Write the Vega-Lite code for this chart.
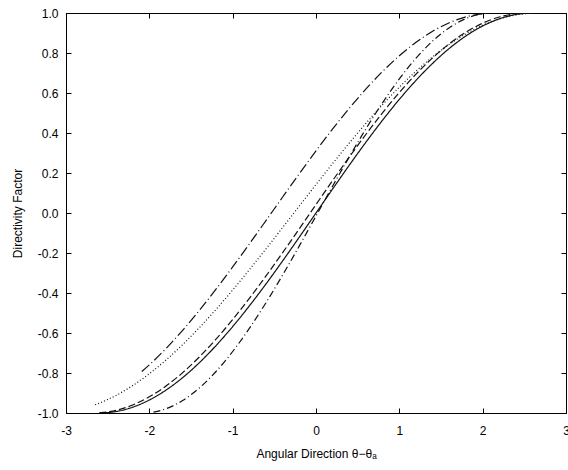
{
  "$schema": "https://vega.github.io/schema/vega-lite/v6.json",
  "width": 500,
  "height": 400,
  "autosize": {"type": "none"},
  "padding": {"left": 66, "top": 13, "right": 2, "bottom": 57},
  "background": "white",
  "config": {
    "font": "Liberation Sans",
    "view": {"stroke": "black", "strokeWidth": 1},
    "axis": {
      "grid": false,
      "domainColor": "black",
      "tickColor": "black",
      "labelColor": "black",
      "titleColor": "black",
      "labelFont": "Liberation Sans",
      "titleFont": "Liberation Sans",
      "labelFontSize": 12,
      "titleFontSize": 12,
      "titleFontWeight": "normal",
      "labelFlush": false,
      "labelOverlap": false
    }
  },
  "datasets": {
    "curves": [
      {"c": "solid", "x": -2.6, "y": -1.0},
      {"c": "solid", "x": -2.4, "y": -0.9927},
      {"c": "solid", "x": -2.2, "y": -0.9709},
      {"c": "solid", "x": -2.0, "y": -0.935},
      {"c": "solid", "x": -1.8, "y": -0.8855},
      {"c": "solid", "x": -1.6, "y": -0.823},
      {"c": "solid", "x": -1.4, "y": -0.7485},
      {"c": "solid", "x": -1.2, "y": -0.6631},
      {"c": "solid", "x": -1.0, "y": -0.5681},
      {"c": "solid", "x": -0.8, "y": -0.4647},
      {"c": "solid", "x": -0.6, "y": -0.3546},
      {"c": "solid", "x": -0.4, "y": -0.2393},
      {"c": "solid", "x": -0.2, "y": -0.1205},
      {"c": "solid", "x": 0.0, "y": 0.0},
      {"c": "solid", "x": 0.2, "y": 0.1205},
      {"c": "solid", "x": 0.4, "y": 0.2393},
      {"c": "solid", "x": 0.6, "y": 0.3546},
      {"c": "solid", "x": 0.8, "y": 0.4647},
      {"c": "solid", "x": 1.0, "y": 0.5681},
      {"c": "solid", "x": 1.2, "y": 0.6631},
      {"c": "solid", "x": 1.4, "y": 0.7485},
      {"c": "solid", "x": 1.6, "y": 0.823},
      {"c": "solid", "x": 1.8, "y": 0.8855},
      {"c": "solid", "x": 2.0, "y": 0.935},
      {"c": "solid", "x": 2.2, "y": 0.9709},
      {"c": "solid", "x": 2.4, "y": 0.9927},
      {"c": "solid", "x": 2.6, "y": 1.0},

      {"c": "dashed", "x": -2.6, "y": -0.9991},
      {"c": "dashed", "x": -2.4, "y": -0.9867},
      {"c": "dashed", "x": -2.2, "y": -0.9599},
      {"c": "dashed", "x": -2.0, "y": -0.9192},
      {"c": "dashed", "x": -1.8, "y": -0.865},
      {"c": "dashed", "x": -1.6, "y": -0.7982},
      {"c": "dashed", "x": -1.4, "y": -0.7198},
      {"c": "dashed", "x": -1.2, "y": -0.6309},
      {"c": "dashed", "x": -1.0, "y": -0.5328},
      {"c": "dashed", "x": -0.8, "y": -0.4269},
      {"c": "dashed", "x": -0.6, "y": -0.3148},
      {"c": "dashed", "x": -0.4, "y": -0.1981},
      {"c": "dashed", "x": -0.2, "y": -0.0784},
      {"c": "dashed", "x": 0.0, "y": 0.0423},
      {"c": "dashed", "x": 0.2, "y": 0.1624},
      {"c": "dashed", "x": 0.4, "y": 0.2802},
      {"c": "dashed", "x": 0.6, "y": 0.3938},
      {"c": "dashed", "x": 0.8, "y": 0.5017},
      {"c": "dashed", "x": 1.0, "y": 0.6023},
      {"c": "dashed", "x": 1.2, "y": 0.6942},
      {"c": "dashed", "x": 1.4, "y": 0.7759},
      {"c": "dashed", "x": 1.6, "y": 0.8462},
      {"c": "dashed", "x": 1.8, "y": 0.9043},
      {"c": "dashed", "x": 2.0, "y": 0.9492},
      {"c": "dashed", "x": 2.2, "y": 0.9802},
      {"c": "dashed", "x": 2.4, "y": 0.9969},
      {"c": "dashed", "x": 2.53, "y": 1.0},

      {"c": "dotted", "x": -2.65, "y": -0.9589},
      {"c": "dotted", "x": -2.4, "y": -0.9122},
      {"c": "dotted", "x": -2.2, "y": -0.8629},
      {"c": "dotted", "x": -2.0, "y": -0.8036},
      {"c": "dotted", "x": -1.8, "y": -0.7351},
      {"c": "dotted", "x": -1.6, "y": -0.658},
      {"c": "dotted", "x": -1.4, "y": -0.5734},
      {"c": "dotted", "x": -1.2, "y": -0.4821},
      {"c": "dotted", "x": -1.0, "y": -0.3852},
      {"c": "dotted", "x": -0.8, "y": -0.2839},
      {"c": "dotted", "x": -0.6, "y": -0.1792},
      {"c": "dotted", "x": -0.4, "y": -0.0725},
      {"c": "dotted", "x": -0.2, "y": 0.035},
      {"c": "dotted", "x": 0.0, "y": 0.1421},
      {"c": "dotted", "x": 0.2, "y": 0.2476},
      {"c": "dotted", "x": 0.4, "y": 0.3502},
      {"c": "dotted", "x": 0.6, "y": 0.4488},
      {"c": "dotted", "x": 0.8, "y": 0.5422},
      {"c": "dotted", "x": 1.0, "y": 0.6293},
      {"c": "dotted", "x": 1.2, "y": 0.7091},
      {"c": "dotted", "x": 1.4, "y": 0.7807},
      {"c": "dotted", "x": 1.6, "y": 0.8433},
      {"c": "dotted", "x": 1.8, "y": 0.8961},
      {"c": "dotted", "x": 2.0, "y": 0.9386},
      {"c": "dotted", "x": 2.2, "y": 0.9702},
      {"c": "dotted", "x": 2.4, "y": 0.9906},
      {"c": "dotted", "x": 2.655, "y": 1.0},

      {"c": "dashdot", "x": -2.09, "y": -0.7927},
      {"c": "dashdot", "x": -2.0, "y": -0.7593},
      {"c": "dashdot", "x": -1.8, "y": -0.6776},
      {"c": "dashdot", "x": -1.6, "y": -0.5865},
      {"c": "dashdot", "x": -1.4, "y": -0.4872},
      {"c": "dashdot", "x": -1.2, "y": -0.3812},
      {"c": "dashdot", "x": -1.0, "y": -0.2699},
      {"c": "dashdot", "x": -0.8, "y": -0.1549},
      {"c": "dashdot", "x": -0.6, "y": -0.0377},
      {"c": "dashdot", "x": -0.4, "y": 0.08},
      {"c": "dashdot", "x": -0.2, "y": 0.1966},
      {"c": "dashdot", "x": 0.0, "y": 0.3105},
      {"c": "dashdot", "x": 0.2, "y": 0.4201},
      {"c": "dashdot", "x": 0.4, "y": 0.5238},
      {"c": "dashdot", "x": 0.6, "y": 0.6203},
      {"c": "dashdot", "x": 0.8, "y": 0.7082},
      {"c": "dashdot", "x": 1.0, "y": 0.7862},
      {"c": "dashdot", "x": 1.2, "y": 0.8534},
      {"c": "dashdot", "x": 1.4, "y": 0.9088},
      {"c": "dashdot", "x": 1.6, "y": 0.9515},
      {"c": "dashdot", "x": 1.8, "y": 0.9811},
      {"c": "dashdot", "x": 2.0, "y": 0.997},

      {"c": "dashdot2", "x": -1.95, "y": -0.9957},
      {"c": "dashdot2", "x": -1.8, "y": -0.9789},
      {"c": "dashdot2", "x": -1.6, "y": -0.9374},
      {"c": "dashdot2", "x": -1.4, "y": -0.8748},
      {"c": "dashdot2", "x": -1.2, "y": -0.7926},
      {"c": "dashdot2", "x": -1.0, "y": -0.6925},
      {"c": "dashdot2", "x": -0.8, "y": -0.577},
      {"c": "dashdot2", "x": -0.6, "y": -0.4484},
      {"c": "dashdot2", "x": -0.4, "y": -0.3098},
      {"c": "dashdot2", "x": -0.2, "y": -0.1643},
      {"c": "dashdot2", "x": 0.0, "y": -0.015},
      {"c": "dashdot2", "x": 0.2, "y": 0.1346},
      {"c": "dashdot2", "x": 0.4, "y": 0.2812},
      {"c": "dashdot2", "x": 0.6, "y": 0.4214},
      {"c": "dashdot2", "x": 0.8, "y": 0.5522},
      {"c": "dashdot2", "x": 1.0, "y": 0.6706},
      {"c": "dashdot2", "x": 1.2, "y": 0.7739},
      {"c": "dashdot2", "x": 1.4, "y": 0.8599},
      {"c": "dashdot2", "x": 1.6, "y": 0.9265},
      {"c": "dashdot2", "x": 1.8, "y": 0.9723},
      {"c": "dashdot2", "x": 2.0, "y": 0.9963},
      {"c": "dashdot2", "x": 2.05, "y": 0.9988}
    ],
    "frame": [{"x": -3, "y": -1}]
  },
  "layer": [
    {
      "data": {"name": "curves"},
      "mark": {"type": "line", "color": "#111111", "strokeWidth": 1.2, "interpolate": "monotone", "clip": true},
      "encoding": {
        "x": {
          "field": "x", "type": "quantitative",
          "scale": {"domain": [-3, 3], "nice": false, "zero": false},
          "axis": {
            "orient": "bottom",
            "values": [-3, -2, -1, 0, 1, 2, 3],
            "labelExpr": "datum.value < 0 ? '-' + format(abs(datum.value), 'd') : format(datum.value, 'd')",
            "ticks": false,
            "labelPadding": 12,
            "title": "Angular Direction θ−θₐ",
            "titlePadding": 12
          }
        },
        "y": {
          "field": "y", "type": "quantitative",
          "scale": {"domain": [-1, 1], "nice": false, "zero": false},
          "axis": {
            "orient": "left",
            "values": [-1, -0.8, -0.6, -0.4, -0.2, 0, 0.2, 0.4, 0.6, 0.8, 1],
            "labelExpr": "datum.value < -0.001 ? '-' + format(abs(datum.value), '.1f') : format(abs(datum.value), '.1f')",
            "ticks": false,
            "labelPadding": 8,
            "title": "Directivity Factor",
            "titlePadding": 13
          }
        },
        "strokeDash": {
          "field": "c", "type": "nominal",
          "scale": {
            "domain": ["solid", "dashed", "dotted", "dashdot", "dashdot2"],
            "range": [[1, 0], [7, 3], [1, 2.2], [10, 3, 1, 3], [7, 3, 1, 3]]
          },
          "legend": null
        }
      }
    },
    {
      "data": {"name": "frame"},
      "mark": {"type": "point", "opacity": 0},
      "encoding": {
        "x": {
          "field": "x", "type": "quantitative",
          "scale": {"domain": [-3, 3], "nice": false, "zero": false},
          "axis": {"orient": "top", "values": [-3, -2, -1, 0, 1, 2, 3], "labels": false, "title": null, "domain": false, "tickSize": 5, "offset": -5}
        },
        "y": {
          "field": "y", "type": "quantitative",
          "scale": {"domain": [-1, 1], "nice": false, "zero": false},
          "axis": {"orient": "right", "values": [-1, -0.8, -0.6, -0.4, -0.2, 0, 0.2, 0.4, 0.6, 0.8, 1], "labels": false, "title": null, "domain": false, "tickSize": 5, "offset": -5}
        }
      }
    },
    {
      "data": {"name": "frame"},
      "mark": {"type": "point", "opacity": 0},
      "encoding": {
        "x": {
          "field": "x", "type": "quantitative",
          "scale": {"domain": [-3, 3], "nice": false, "zero": false},
          "axis": {"orient": "bottom", "values": [-3, -2, -1, 0, 1, 2, 3], "labels": false, "title": null, "domain": false, "tickSize": 5, "offset": -5}
        },
        "y": {
          "field": "y", "type": "quantitative",
          "scale": {"domain": [-1, 1], "nice": false, "zero": false},
          "axis": {"orient": "left", "values": [-1, -0.8, -0.6, -0.4, -0.2, 0, 0.2, 0.4, 0.6, 0.8, 1], "labels": false, "title": null, "domain": false, "tickSize": 5, "offset": -5}
        }
      }
    }
  ],
  "resolve": {"axis": {"x": "independent", "y": "independent"}}
}
